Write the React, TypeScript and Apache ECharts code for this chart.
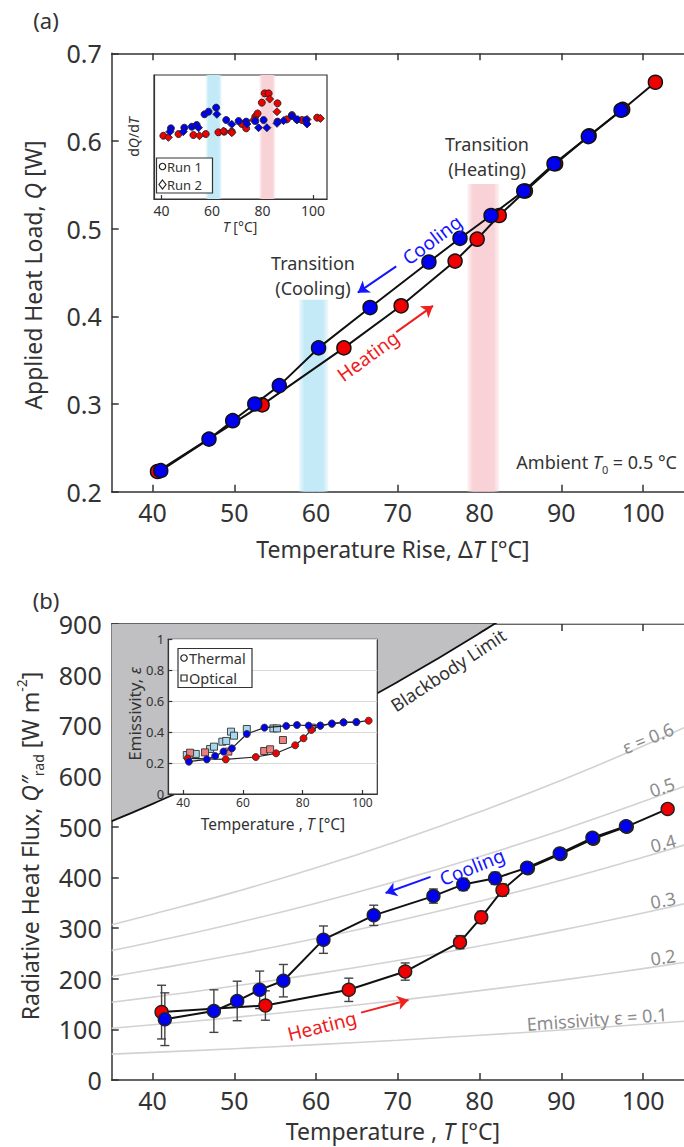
import React, { useEffect, useRef } from "react";
import * as echarts from "echarts";

const FONT = '"Noto Sans", "DejaVu Sans", sans-serif';
const INK = "#333333";
const RED = "#f00000";
const BLUE = "#0000f0";

// ---------- Panel (a): applied heat load vs temperature rise ----------
const ticksXMain = [40, 50, 60, 70, 80, 90, 100];
const heatT_a = [40.6, 53.4, 63.4, 70.4, 77.0, 79.7, 82.4, 85.6, 89.3, 93.4, 97.5, 101.5];
const heatQ_a = [0.223, 0.299, 0.364, 0.412, 0.463, 0.488, 0.515, 0.543, 0.574, 0.606, 0.636, 0.667];
const coolT_a = [97.3, 93.3, 89.1, 85.4, 81.4, 77.6, 73.8, 66.6, 60.3, 55.5, 52.5, 49.8, 46.9, 41.0];
const coolQ_a = [0.635, 0.605, 0.574, 0.543, 0.515, 0.489, 0.462, 0.41, 0.364, 0.321, 0.3, 0.281, 0.26, 0.224];
// transition bands [from, to, top]
const bandCool_a = [57.9, 61.5, 0.419];
const bandHeat_a = [78.5, 82.4, 0.551];

// inset (a): dQ/dT (arbitrary units)
const ticksInsetA = [40, 60, 80, 100];
const r1HeatT = [40.7, 46.7, 52.6, 57.5, 62.5, 64.8, 67.8, 71.8, 73.5, 77.1, 78.0, 79.7, 80.8, 82.4, 85.9, 89.6, 91.6, 95.6, 101.6];
const r1HeatD = [0.51, 0.524, 0.516, 0.524, 0.538, 0.543, 0.543, 0.605, 0.57, 0.664, 0.69, 0.777, 0.852, 0.852, 0.772, 0.642, 0.677, 0.637, 0.656];
const r2HeatT = [42.7, 55.0, 64.5, 67.8, 76.4, 82.8, 85.7, 93.6, 97.6, 102.9];
const r2HeatD = [0.497, 0.51, 0.548, 0.535, 0.637, 0.806, 0.704, 0.637, 0.642, 0.65];
const r1CoolT = [43.7, 49.0, 52.0, 53.9, 57.0, 58.6, 61.6, 65.6, 70.5, 73.5, 77.1, 80.4, 85.9, 91.6, 93.6, 97.2];
const r1CoolD = [0.57, 0.575, 0.583, 0.597, 0.683, 0.704, 0.737, 0.637, 0.629, 0.624, 0.629, 0.637, 0.624, 0.669, 0.642, 0.637];
const r2CoolT = [43.3, 48.6, 54.6, 61.9, 67.8, 73.8, 78.4, 81.7, 85.7, 88.3, 97.6];
const r2CoolD = [0.543, 0.543, 0.575, 0.683, 0.602, 0.605, 0.575, 0.575, 0.61, 0.632, 0.605];
const bandCool_ia = [57.5, 63.8];
const bandHeat_ia = [78.7, 85.0];

// ---------- Panel (b): radiative heat flux vs temperature ----------
const heatT_b = [41.1, 53.8, 64.0, 70.9, 77.6, 80.2, 82.8, 85.9, 89.9, 93.9, 98.0, 103.0];
const heatQ_b = [134, 147, 178, 214, 272, 321, 375, 418, 446, 476, 500, 535];
const heatErr_b = [53, 29, 23, 17, 13, 12, 12, 10, 10, 10, 8, 8];
const coolT_b = [97.9, 93.8, 89.8, 85.8, 81.9, 78.0, 74.35, 67.05, 60.9, 56.0, 53.1, 50.35, 47.5, 41.5];
const coolQ_b = [501, 478, 447, 419, 398, 386, 363, 325, 277, 196, 178, 156, 136, 120];
const coolErr_b = [6, 10, 10, 10, 12, 12, 14, 20, 27, 32, 37, 39, 42, 52];
// blackbody limit
const bbT = [35, 40, 50, 60, 70, 80, 90, 100, 105];
const bbQ = [511, 545, 618, 698, 786, 882, 986, 1099, 1159];
const emissivities = [0.1, 0.2, 0.3, 0.4, 0.5, 0.6];

// inset (b): emissivity
const thermHeatT = [41.5, 54.25, 64.3, 71.1, 77.5, 80.3, 82.9, 85.9, 89.8, 93.7, 98.0, 102.1];
const thermHeatE = [0.23, 0.224, 0.239, 0.263, 0.315, 0.36, 0.414, 0.442, 0.455, 0.463, 0.465, 0.474];
const thermCoolT = [98.0, 93.7, 89.8, 85.9, 82.0, 78.1, 74.5, 67.2, 61.3, 56.3, 53.5, 50.7, 47.9, 41.9];
const thermCoolE = [0.465, 0.463, 0.455, 0.442, 0.442, 0.446, 0.44, 0.429, 0.388, 0.295, 0.274, 0.246, 0.224, 0.209];
const optCoolT = [41.2, 44.2, 49.0, 50.3, 53.1, 54.4, 56.0, 57.0, 61.3, 70.2, 71.4];
const optCoolE = [0.252, 0.259, 0.291, 0.306, 0.338, 0.343, 0.403, 0.377, 0.42, 0.424, 0.424];
const optHeatT = [42.3, 47.3, 55.1, 67.1, 69.1, 73.4, 83.1];
const optHeatE = [0.267, 0.269, 0.274, 0.278, 0.289, 0.349, 0.429];

const pairs = (xs: number[], ys: number[]) => xs.map((x, i) => [x, ys[i]]);
const triples = (xs: number[], ys: number[], es: number[]) => xs.map((x, i) => [x, ys[i], es[i]]);

function band(rgb: string) {
  return new echarts.graphic.LinearGradient(0, 0, 1, 0, [
    { offset: 0, color: `rgba(${rgb},0.25)` },
    { offset: 0.18, color: `rgba(${rgb},1)` },
    { offset: 0.82, color: `rgba(${rgb},1)` },
    { offset: 1, color: `rgba(${rgb},0.25)` },
  ]);
}

function xAxisCfg(gridIndex: number, position: string, min: number, max: number, ticks: number[], fontSize: number, opts: any = {}) {
  const showLabel = position === "bottom";
  return {
    type: "value",
    gridIndex,
    position,
    min,
    max,
    z: opts.z ?? 0,
    axisLine: { show: true, onZero: false, lineStyle: { color: INK, width: opts.lw ?? 1.5 } },
    axisTick: { show: true, inside: true, length: opts.tl ?? 7, customValues: ticks, lineStyle: { color: INK, width: opts.lw ?? 1.5 } },
    axisLabel: {
      show: showLabel,
      customValues: ticks,
      fontSize,
      lineHeight: Math.round(fontSize * 1.05),
      color: INK,
      fontFamily: FONT,
      margin: opts.margin ?? 6,
    },
    splitLine: { show: false },
  };
}

function errRender(params: any, api: any) {
  const x = api.value(0);
  const y = api.value(1);
  const e = api.value(2);
  const top = api.coord([x, y + e]);
  const bot = api.coord([x, y - e]);
  const w = 4.5;
  const st = { stroke: "#444", lineWidth: 1.4 };
  return {
    type: "group",
    children: [
      { type: "line", shape: { x1: top[0], y1: top[1], x2: bot[0], y2: bot[1] }, style: st },
      { type: "line", shape: { x1: top[0] - w, y1: top[1], x2: top[0] + w, y2: top[1] }, style: st },
      { type: "line", shape: { x1: bot[0] - w, y1: bot[1], x2: bot[0] + w, y2: bot[1] }, style: st },
    ],
  };
}

function richSet(size: number, color: string, lh: number) {
  const s = Math.round(size * 0.6);
  return {
    i: { fontStyle: "italic", fontSize: size, fontFamily: FONT, fill: color, lineHeight: lh },
    n: { fontSize: size, fontFamily: FONT, fill: color, lineHeight: lh },
    sub: { fontSize: s, fontFamily: FONT, fill: color, verticalAlign: "bottom", lineHeight: s },
    sup: { fontSize: s, fontFamily: FONT, fill: color, verticalAlign: "top", lineHeight: s },
  };
}

function txt(x: number, y: number, text: string, size: number, o: any = {}) {
  const lh = o.lh ?? Math.round(size * 1.15);
  return {
    type: "text",
    x,
    y,
    rotation: ((o.rot || 0) * Math.PI) / 180,
    z: 50,
    silent: true,
    style: {
      text,
      fontSize: size,
      fontFamily: FONT,
      fill: o.color || INK,
      align: o.align || "center",
      verticalAlign: "middle",
      lineHeight: lh,
      rich: richSet(size, o.color || INK, lh),
    },
  };
}

function buildOption() {
  const series: any[] = [];

  // ---- panel (a) ----
  series.push({
    type: "line",
    xAxisIndex: 0,
    yAxisIndex: 0,
    data: [],
    z: 1,
    silent: true,
    markArea: {
      silent: true,
      data: [
        [{ xAxis: bandCool_a[0], yAxis: 0.2, itemStyle: { color: band("197,234,247") } }, { xAxis: bandCool_a[1], yAxis: bandCool_a[2] }],
        [{ xAxis: bandHeat_a[0], yAxis: 0.2, itemStyle: { color: band("248,210,214") } }, { xAxis: bandHeat_a[1], yAxis: bandHeat_a[2] }],
      ],
    },
  });
  series.push({
    type: "line",
    xAxisIndex: 0,
    yAxisIndex: 0,
    data: pairs(heatT_a, heatQ_a),
    symbol: "circle",
    symbolSize: 14,
    itemStyle: { color: RED, borderColor: "#111", borderWidth: 1.5 },
    lineStyle: { color: "#111", width: 2 },
    z: 3,
    markLine: {
      silent: true,
      symbol: ["none", "arrow"],
      symbolSize: 11,
      label: { show: false },
      lineStyle: { color: "#ee2020", width: 2, type: "solid" },
      data: [[{ coord: [69.8, 0.382] }, { coord: [74.3, 0.412] }]],
    },
  });
  series.push({
    type: "line",
    xAxisIndex: 0,
    yAxisIndex: 0,
    data: pairs(coolT_a, coolQ_a),
    symbol: "circle",
    symbolSize: 14,
    itemStyle: { color: BLUE, borderColor: "#111", borderWidth: 1.5 },
    lineStyle: { color: "#111", width: 2 },
    z: 4,
    markLine: {
      silent: true,
      symbol: ["none", "arrow"],
      symbolSize: 11,
      label: { show: false },
      lineStyle: { color: "#1515ff", width: 2, type: "solid" },
      data: [[{ coord: [69.8, 0.457] }, { coord: [65.1, 0.427] }]],
    },
  });

  // ---- inset (a) ----
  series.push({
    type: "line",
    xAxisIndex: 2,
    yAxisIndex: 1,
    data: [],
    z: 1,
    silent: true,
    markArea: {
      silent: true,
      data: [
        [{ xAxis: bandCool_ia[0], itemStyle: { color: band("197,234,247") } }, { xAxis: bandCool_ia[1] }],
        [{ xAxis: bandHeat_ia[0], itemStyle: { color: band("248,210,214") } }, { xAxis: bandHeat_ia[1] }],
      ],
    },
  });
  const insetA = (xs: number[], ys: number[], color: string, symbol: string, size: number) => ({
    type: "scatter",
    xAxisIndex: 2,
    yAxisIndex: 1,
    data: pairs(xs, ys),
    symbol,
    symbolSize: size,
    itemStyle: { color, borderColor: "#222", borderWidth: 0.9, opacity: 1 },
    z: 3,
  });
  series.push(insetA(r1HeatT, r1HeatD, RED, "circle", 7));
  series.push(insetA(r2HeatT, r2HeatD, RED, "diamond", 8));
  series.push(insetA(r1CoolT, r1CoolD, BLUE, "circle", 7));
  series.push(insetA(r2CoolT, r2CoolD, BLUE, "diamond", 8));

  // ---- panel (b) ----
  series.push({
    type: "line",
    xAxisIndex: 3,
    yAxisIndex: 2,
    data: pairs(bbT, bbQ),
    smooth: true,
    symbol: "none",
    clip: true,
    lineStyle: { color: "#111", width: 1.8 },
    areaStyle: { color: "#c0c0c2", origin: "end", opacity: 1 },
    z: 1,
    silent: true,
  });
  emissivities.forEach((eps) => {
    series.push({
      type: "line",
      xAxisIndex: 3,
      yAxisIndex: 2,
      data: bbT.map((t, i) => [t, eps * bbQ[i]]),
      smooth: true,
      symbol: "none",
      clip: true,
      lineStyle: { color: "#d2d2d2", width: 1.6 },
      z: 1,
      silent: true,
    });
  });
  series.push({
    type: "custom",
    xAxisIndex: 3,
    yAxisIndex: 2,
    data: triples(heatT_b, heatQ_b, heatErr_b),
    encode: { x: 0, y: 1 },
    renderItem: errRender,
    z: 2,
    silent: true,
  });
  series.push({
    type: "custom",
    xAxisIndex: 3,
    yAxisIndex: 2,
    data: triples(coolT_b, coolQ_b, coolErr_b),
    encode: { x: 0, y: 1 },
    renderItem: errRender,
    z: 2,
    silent: true,
  });
  series.push({
    type: "line",
    xAxisIndex: 3,
    yAxisIndex: 2,
    data: pairs(heatT_b, heatQ_b),
    symbol: "circle",
    symbolSize: 13,
    itemStyle: { color: RED, borderColor: "#222", borderWidth: 1.4 },
    lineStyle: { color: "#111", width: 2 },
    z: 3,
    markLine: {
      silent: true,
      symbol: ["none", "arrow"],
      symbolSize: 11,
      label: { show: false },
      lineStyle: { color: "#ee2020", width: 2, type: "solid" },
      data: [[{ coord: [65.5, 133] }, { coord: [71.3, 158] }]],
    },
  });
  series.push({
    type: "line",
    xAxisIndex: 3,
    yAxisIndex: 2,
    data: pairs(coolT_b, coolQ_b),
    symbol: "circle",
    symbolSize: 13,
    itemStyle: { color: BLUE, borderColor: "#222", borderWidth: 1.4 },
    lineStyle: { color: "#111", width: 2 },
    z: 4,
    markLine: {
      silent: true,
      symbol: ["none", "arrow"],
      symbolSize: 11,
      label: { show: false },
      lineStyle: { color: "#1515ff", width: 2, type: "solid" },
      data: [[{ coord: [74.0, 401] }, { coord: [68.5, 369] }]],
    },
  });

  // ---- inset (b) ----
  const insetB = (xs: number[], ys: number[], color: string, symbol: string, size: number, line: boolean) => ({
    type: line ? "line" : "scatter",
    xAxisIndex: 5,
    yAxisIndex: 3,
    data: pairs(xs, ys),
    symbol,
    symbolSize: size,
    itemStyle: { color, borderColor: "#333", borderWidth: 0.9, opacity: 1 },
    lineStyle: { color: "#222", width: 1.2 },
    z: line ? 14 : 13,
    silent: true,
  });
  series.push(insetB(optCoolT, optCoolE, "#a8d8ee", "rect", 7, false));
  series.push(insetB(optHeatT, optHeatE, "#ef7f7f", "rect", 7, false));
  series.push(insetB(thermHeatT, thermHeatE, RED, "circle", 7, true));
  series.push(insetB(thermCoolT, thermCoolE, BLUE, "circle", 7, true));

  const gridA = { left: 111.7, top: 53.3, width: 579.8, height: 438.4 };
  const gridIA = { left: 154, top: 75, width: 173, height: 124 };
  const gridB = { left: 111.7, top: 624, width: 579.8, height: 456 };
  const gridIB = { left: 168.3, top: 639.3, width: 209, height: 154.7 };

  const graphics: any[] = [
    // white background of inset (b), above the blackbody area
    { type: "rect", shape: { x: gridIB.left, y: gridIB.top, width: gridIB.width, height: gridIB.height }, style: { fill: "#fff", stroke: INK, lineWidth: 1.2 }, z: 5, silent: true },
    // inset (a) legend
    { type: "rect", shape: { x: 156.5, y: 158, width: 56, height: 35 }, style: { fill: "#fff", stroke: INK, lineWidth: 1.2 }, z: 30, silent: true },
    { type: "circle", shape: { cx: 162.5, cy: 166.5, r: 3.2 }, style: { fill: "#fff", stroke: "#222", lineWidth: 1.2 }, z: 31, silent: true },
    { type: "polygon", shape: { points: [[162.5, 180], [166, 184.5], [162.5, 189], [159, 184.5]] }, style: { fill: "#fff", stroke: "#222", lineWidth: 1.2 }, z: 31, silent: true },
    txt(167, 166.5, "Run 1", 13, { align: "left", lh: 14 }),
    txt(167, 184.5, "Run 2", 13, { align: "left", lh: 14 }),
    // inset (b) legend
    { type: "rect", shape: { x: 178, y: 648.5, width: 74, height: 39 }, style: { fill: "#fff", stroke: INK, lineWidth: 1.2 }, z: 30, silent: true },
    { type: "circle", shape: { cx: 184, cy: 658, r: 3.2 }, style: { fill: "#fff", stroke: "#222", lineWidth: 1.2 }, z: 31, silent: true },
    { type: "rect", shape: { x: 181, y: 675, width: 6, height: 6 }, style: { fill: "#fff", stroke: "#222", lineWidth: 1.2 }, z: 31, silent: true },
    txt(189, 658, "Thermal", 14.5, { align: "left", lh: 16 }),
    txt(189, 678, "Optical", 14.5, { align: "left", lh: 16 }),

    // panel labels
    txt(46, 20, "(a)", 22),
    txt(46, 600, "(b)", 22),

    // axis titles (a)
    txt(33, 275, "Applied Heat Load, {i|Q} [W]", 23, { rot: 90 }),
    txt(393, 549, "Temperature Rise, Δ{i|T} [°C]", 23),
    txt(133, 137, "d{i|Q}/d{i|T}", 14, { rot: 90 }),
    txt(240, 226, "{i|T} [°C]", 14, { lh: 15 }),

    // annotations (a)
    txt(487, 144, "Transition", 18),
    txt(487, 169, "(Heating)", 18),
    txt(313, 263, "Transition", 18),
    txt(313, 288, "(Cooling)", 18),
    txt(432, 240, "Cooling", 19, { rot: 37, color: "#1515ff" }),
    txt(368, 356, "Heating", 19, { rot: 36, color: "#ee1c1c" }),
    txt(677, 462, "Ambient {i|T}{sub|0} = 0.5 °C", 18, { align: "right", lh: 26 }),

    // axis titles (b)
    txt(30, 846, "Radiative Heat Flux, {i|Q″}{sub|rad} [W m{sup|-2}]", 23, { rot: 90, lh: 31 }),
    txt(393, 1131, "Temperature , {i|T} [°C]", 23),
    txt(134, 714, "Emissivity, {i|ε}", 17, { rot: 90 }),
    txt(273, 824, "Temperature , {i|T} [°C]", 15.5, { lh: 16 }),

    // annotations (b)
    txt(448, 670, "Blackbody Limit", 18, { rot: 33.5 }),
    txt(648, 738, "ε = 0.6", 18, { rot: 22, color: "#8c8c8c" }),
    txt(662, 787, "0.5", 18, { rot: 19, color: "#8c8c8c" }),
    txt(663, 843, "0.4", 18, { rot: 15, color: "#8c8c8c" }),
    txt(663, 900, "0.3", 18, { rot: 11, color: "#8c8c8c" }),
    txt(663, 957, "0.2", 18, { rot: 8, color: "#8c8c8c" }),
    txt(597, 1019, "Emissivity ε = 0.1", 18, { rot: 4, color: "#8c8c8c" }),
    txt(472, 867, "Cooling", 19, { rot: 22, color: "#1515ff" }),
    txt(322, 1026, "Heating", 19, { rot: 14, color: "#ee1c1c" }),
  ];

  return {
    animation: false,
    backgroundColor: "#fff",
    textStyle: { fontFamily: FONT },
    grid: [
      { ...gridA, show: false },
      { ...gridIA, show: true, backgroundColor: "#fff", borderColor: INK, borderWidth: 1.2, z: 0 },
      { ...gridB, show: false },
      { ...gridIB, show: false },
    ],
    xAxis: [
      xAxisCfg(0, "bottom", 35, 105, ticksXMain, 25, { margin: 7 }),
      xAxisCfg(0, "top", 35, 105, ticksXMain, 25),
      xAxisCfg(1, "bottom", 37, 105.5, ticksInsetA, 14, { tl: 4, lw: 1.2, margin: 4 }),
      xAxisCfg(2, "bottom", 35, 105, ticksXMain, 25, { margin: 7 }),
      xAxisCfg(2, "top", 35, 105, ticksXMain, 25),
      xAxisCfg(3, "bottom", 35, 105, ticksInsetA, 12, { tl: 4, lw: 1.2, margin: 2, z: 11 }),
    ],
    yAxis: [
      {
        type: "value",
        gridIndex: 0,
        min: 0.2,
        max: 0.7,
        interval: 0.1,
        axisLine: { show: true, onZero: false, lineStyle: { color: INK, width: 1.5 } },
        axisTick: { show: true, inside: true, length: 7, lineStyle: { color: INK, width: 1.5 } },
        axisLabel: { fontSize: 25, color: INK, fontFamily: FONT, margin: 10 },
        splitLine: { show: false },
      },
      {
        type: "value",
        gridIndex: 1,
        min: 0,
        max: 1,
        axisLine: { show: true, onZero: false, lineStyle: { color: INK, width: 1.2 } },
        axisTick: { show: false },
        axisLabel: { show: false },
        splitLine: { show: false },
      },
      {
        type: "value",
        gridIndex: 2,
        min: 0,
        max: 900,
        interval: 100,
        axisLine: { show: true, onZero: false, lineStyle: { color: INK, width: 1.5 } },
        axisTick: { show: true, inside: true, length: 7, lineStyle: { color: INK, width: 1.5 } },
        axisLabel: { fontSize: 25, color: INK, fontFamily: FONT, margin: 10 },
        splitLine: { show: false },
      },
      {
        type: "value",
        gridIndex: 3,
        min: 0,
        max: 1,
        interval: 0.2,
        z: 11,
        axisLine: { show: true, onZero: false, lineStyle: { color: INK, width: 1.2 } },
        axisTick: { show: true, inside: true, length: 4, lineStyle: { color: INK, width: 1.2 } },
        axisLabel: { fontSize: 13, color: INK, fontFamily: FONT, margin: 4 },
        splitLine: { show: true, lineStyle: { color: "#d9d9d9", width: 1.2 } },
      },
    ],
    series,
    graphic: { elements: graphics },
  };
}

export default function App() {
  const ref = useRef<HTMLDivElement>(null);
  useEffect(() => {
    const chart = echarts.init(ref.current!, null, { renderer: "svg" });
    chart.setOption(buildOption() as any);
    return () => chart.dispose();
  }, []);
  return (
    <div
      ref={ref}
      style={{ position: "absolute", left: 0, top: 0, width: 684, height: 1147, background: "#fff" }}
    />
  );
}
